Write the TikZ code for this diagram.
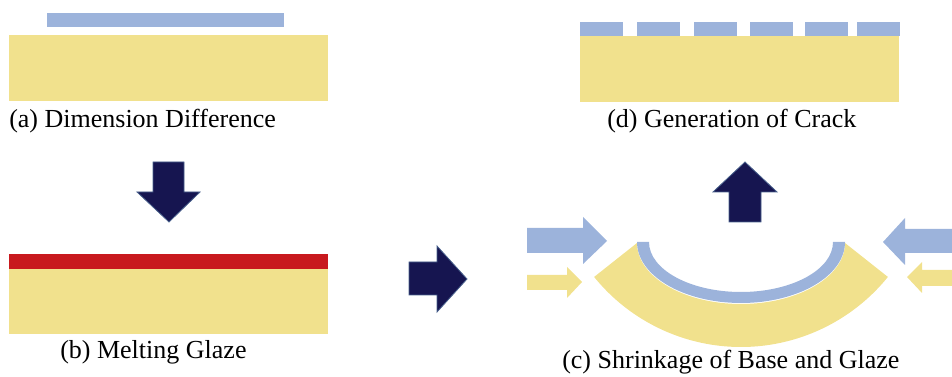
\documentclass[tikz,border=0pt]{standalone}
\usepackage{fontspec}
\setmainfont{Liberation Serif}

\definecolor{baseyellow}{RGB}{241,225,141}
\definecolor{glazeblue}{RGB}{156,179,219}
\definecolor{meltred}{RGB}{200,25,30}
\definecolor{navy}{RGB}{22,21,80}
\definecolor{navyedge}{RGB}{72,96,140}

\begin{document}
\begin{tikzpicture}[x=0.75pt,y=0.75pt,yscale=-1,xscale=1,
  base/.style={fill=baseyellow,draw=none},
  glaze/.style={fill=glazeblue,draw=none},
  melt/.style={fill=meltred,draw=none},
  blockarrow/.style={fill=navy,draw=navyedge,line width=0.6pt,line join=miter},
  caption/.style={anchor=base west,inner sep=0pt,font=\fontsize{19.5}{22}\selectfont}]
\useasboundingbox (0,0) rectangle (952,377);

%Shape: Rectangle (a) glaze sheet
\draw [glaze] (47,13) rectangle (284,27) ;
%Shape: Rectangle (a) base
\draw [base] (9,35) rectangle (328,101) ;

%Shape: Down Arrow
\draw [blockarrow] (153,162) -- (184,162) -- (184,192) -- (200,192) -- (169,222) -- (137,192) -- (153,192) -- cycle ;

%Shape: Rectangle (b) melted glaze
\draw [melt] (9,254) rectangle (328,269) ;
%Shape: Rectangle (b) base
\draw [base] (9,269) rectangle (328,334) ;

%Shape: Right Arrow
\draw [blockarrow] (409,262) -- (437,262) -- (437,246) -- (467,279) -- (437,312) -- (437,295) -- (409,295) -- cycle ;

%Shape: Arc (c) bent base
\draw [base] (741,158) ++(141:189) arc [start angle=141,end angle=39,radius=189] -- (845,243) arc [start angle=0,end angle=180,x radius=104,y radius=61] -- cycle ;
%Shape: Arc (c) bent glaze
\draw [glaze] (845,242) arc [start angle=0,end angle=180,x radius=104,y radius=61] -- (649,242) arc [start angle=180,end angle=0,x radius=92,y radius=50] -- cycle ;

%Shape: Right Arrow (glaze, left)
\draw [glaze] (527,228) -- (583,228) -- (583,217) -- (607,241) -- (583,264) -- (583,253) -- (527,253) -- cycle ;
%Shape: Right Arrow (base, left)
\draw [base] (527,275) -- (567,275) -- (567,267) -- (582,282) -- (567,298) -- (567,290) -- (527,290) -- cycle ;
%Shape: Left Arrow (glaze, right)
\draw [glaze] (952,229) -- (905,229) -- (905,218) -- (883,242) -- (905,265) -- (905,253) -- (952,253) -- cycle ;
%Shape: Left Arrow (base, right)
\draw [base] (952,270) -- (922,270) -- (922,262) -- (907,277) -- (922,293) -- (922,286) -- (952,286) -- cycle ;

%Shape: Up Arrow
\draw [blockarrow] (729,222) -- (729,192) -- (713,192) -- (745,162) -- (777,192) -- (761,192) -- (761,222) -- cycle ;

%Shape: Rectangle (d) base
\draw [base] (580,36) rectangle (899,102) ;
%Shape: Rectangle (d) cracked glaze pieces
\draw [glaze] (580,22) rectangle (623,36) ;
\draw [glaze] (637,22) rectangle (680,36) ;
\draw [glaze] (694,22) rectangle (737,36) ;
\draw [glaze] (750,22) rectangle (793,36) ;
\draw [glaze] (805,22) rectangle (848,36) ;
\draw [glaze] (857,22) rectangle (900,36) ;

% Text Node
\node (capa) [caption] at (9,128) {(a) Dimension Difference};
% Text Node
\node (capb) [caption] at (60,358) {(b) Melting Glaze};
% Text Node
\node (capc) [caption] at (562,368) {(c) Shrinkage of Base and Glaze};
% Text Node
\node (capd) [caption] at (607,128) {(d) Generation of Crack};

\end{tikzpicture}
\end{document}
